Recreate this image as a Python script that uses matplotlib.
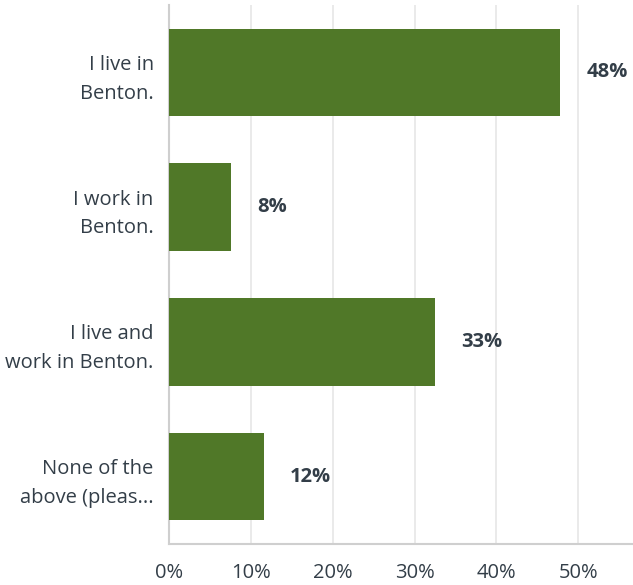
import matplotlib
matplotlib.use('Agg')
import matplotlib.pyplot as plt
import numpy as np

categories = ['I live in\nBenton.', 'I work in\nBenton.',
              'I live and\nwork in Benton.', 'None of the\nabove (pleas...']
shares = [47.8, 7.6, 32.5, 11.6]
value_labels = ['48%', '8%', '33%', '12%']
x_ticks = [0, 10, 20, 30, 40, 50]
x_tick_labels = ['0%', '10%', '20%', '30%', '40%', '50%']

BAR_COLOR = '#507828'
TEXT_COLOR = '#333e48'

plt.rcParams['font.family'] = ['Open Sans', 'DejaVu Sans']

fig = plt.figure(figsize=(6.33, 5.85), dpi=100)
ax = fig.add_axes([169 / 633, 41 / 585, 1 - 169 / 633, 539 / 585])

y = np.arange(len(categories))
bars = ax.barh(y, shares, height=0.65, color=BAR_COLOR, zorder=3)

ax.set_ylim(3.5, -0.5)
ax.set_xlim(0, 56.7)
ax.set_yticks(y)
ax.set_yticklabels(categories, fontsize=14.5, color=TEXT_COLOR,
                   linespacing=1.58, ha='right', multialignment='right')
ax.set_xticks(x_ticks)
ax.set_xticklabels(x_tick_labels, fontsize=14.5, color=TEXT_COLOR)
ax.tick_params(axis='y', length=0, pad=11)
ax.tick_params(axis='x', length=0, pad=14)

ax.grid(axis='x', color='#e6e6e6', linewidth=1.2, zorder=0)
for side in ('top', 'right'):
    ax.spines[side].set_visible(False)
for side in ('left', 'bottom'):
    ax.spines[side].set_color('#cfcfcf')
    ax.spines[side].set_linewidth(1.5)

# value labels sit a fixed distance past the end of each bar
for bar, label in zip(bars, value_labels):
    w = bar.get_width()
    ax.annotate(label, xy=(w, bar.get_y() + bar.get_height() / 2),
                xytext=(26, 0), textcoords='offset pixels',
                ha='left', va='center', fontsize=14.5, fontweight='bold',
                color=TEXT_COLOR)

fig.savefig('out.png', dpi=100)
